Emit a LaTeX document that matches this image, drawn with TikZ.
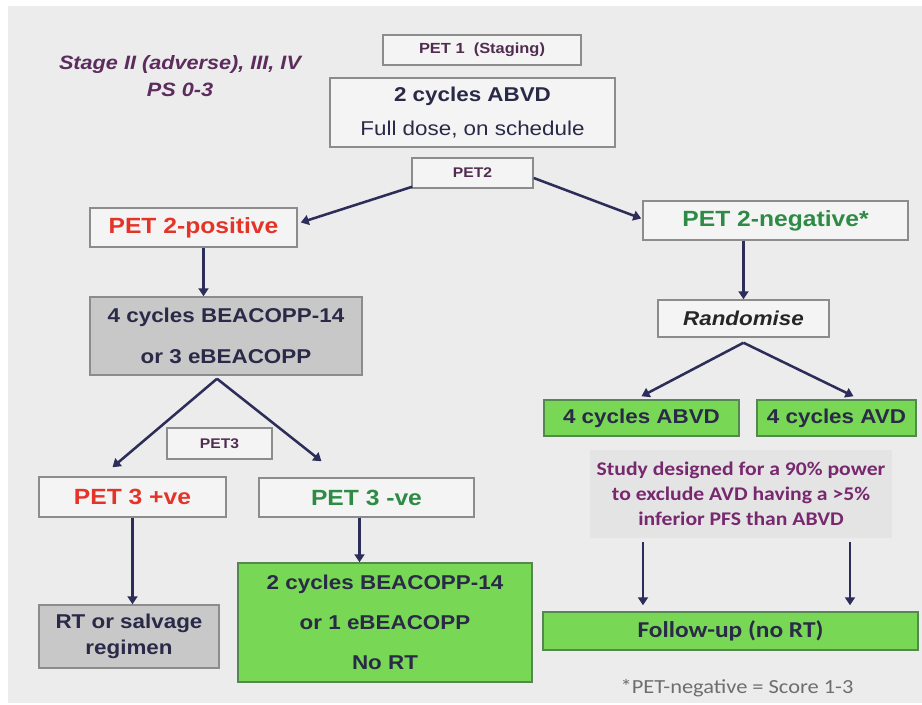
\documentclass[tikz,border=0pt]{standalone}
\usepackage{fontspec}
\setmainfont[FakeStretch=1.12]{Liberation Sans}
\newfontfamily\carl[FakeStretch=1.12]{Carlito}
\usetikzlibrary{arrows.meta,calc}
\definecolor{bgc}{RGB}{236,236,236}
\definecolor{boxfill}{RGB}{244,244,244}
\definecolor{boxline}{RGB}{140,140,140}
\definecolor{grayfill}{RGB}{200,200,200}
\definecolor{grnfill}{RGB}{120,215,85}
\definecolor{grnline}{RGB}{85,135,80}
\definecolor{navy}{RGB}{42,42,72}
\definecolor{arrc}{RGB}{45,45,90}
\definecolor{redc}{RGB}{228,52,40}
\definecolor{grnc}{RGB}{46,139,70}
\definecolor{petc}{RGB}{80,45,80}
\definecolor{stagec}{RGB}{92,44,92}
\definecolor{purpc}{RGB}{120,40,110}
\definecolor{studyc}{RGB}{228,228,228}
\definecolor{footc}{RGB}{110,110,110}
\newcommand\fsz[2]{\fontsize{#1pt}{#2pt}\selectfont}
\begin{document}
\begin{tikzpicture}[x=0.75pt,y=-0.75pt,
  wh/.style 2 args={minimum width=#1*0.75pt, minimum height=#2*0.75pt},
  box/.style={draw=boxline, line width=1.1pt, fill=boxfill, inner sep=0pt, align=center, text=navy},
  grnbox/.style={draw=grnline, line width=1.1pt, fill=grnfill, inner sep=0pt, align=center, text=navy},
  arr/.style={draw=arrc, line width=1.9pt, -{Triangle[width=7.5pt,length=6pt]}},
  ln/.style={draw=arrc, line width=1.9pt}]
\fill[white] (0,0) rectangle (922,705);
\fill[bgc] (8,6) rectangle (922,703);
\useasboundingbox (0,0) rectangle (922,705);

\node[text=stagec, font=\bfseries\itshape\fsz{14.5}{20}, align=center] (stage) at (180,76) {Stage II (adverse), III, IV\\PS 0-3};

\node[box, wh={198}{30}, text=petc, font=\bfseries\fsz{11}{13}] (pet1) at (482,50) {PET 1\ \ (Staging)};
\node[box, wh={285}{69}, font=\fsz{15}{26}] (abvd) at (472.5,112.5) {\textbf{2 cycles ABVD}\\Full dose, on schedule};
\node[box, wh={121}{30}, text=petc, font=\bfseries\fsz{10.5}{12}] (pet2) at (472.5,173) {PET2};

\node[box, wh={207}{39}, text=redc, font=\bfseries\fsz{16.5}{20}] (pos) at (193.5,227.5) {PET 2-positive};
\node[box, wh={265}{39}, text=grnc, font=\bfseries\fsz{16.5}{20}] (neg) at (775.5,220.5) {PET 2-negative*};

\node[box, wh={272}{78}, fill=grayfill, font=\bfseries\fsz{15}{31}] (beac) at (226,336) {4 cycles BEACOPP-14\\or 3 eBEACOPP};
\node[box, wh={171}{37}, text=black!85, font=\bfseries\itshape\fsz{15}{18}] (rand) at (743.5,318.5) {Randomise};

\node[grnbox, wh={195}{36}, font=\bfseries\fsz{15}{18}] (abvd4) at (641.5,418) {4 cycles ABVD};
\node[grnbox, wh={159}{36}, font=\bfseries\fsz{15}{18}] (avd4) at (836.5,418) {4 cycles AVD};

\node[box, wh={105}{31}, text=petc, font=\bfseries\fsz{10.5}{12}] (pet3) at (219.5,443.5) {PET3};
\node[box, wh={187}{40}, text=redc, font=\bfseries\fsz{16.5}{20}] (p3pos) at (132.5,497) {PET 3 +ve};
\node[box, wh={215}{39}, text=grnc, font=\bfseries\fsz{16.5}{20}] (p3neg) at (366.5,497.5) {PET 3 -ve};

\node[box, wh={180}{63}, fill=grayfill, font=\bfseries\fsz{15}{20}] (rt) at (129,636.5) {RT or salvage\\regimen};
\node[grnbox, wh={294}{119}, font=\bfseries\fsz{15}{30}] (green) at (385,622.5) {2 cycles BEACOPP-14\\or 1 eBEACOPP\\No RT};

\node[fill=studyc, inner sep=0pt, wh={302}{88}, text=purpc, font=\carl\bfseries\fsz{14.5}{18.75}, align=center] (study) at (741,494) {Study designed for a 90\% power\\to exclude AVD having a >5\%\\inferior PFS than ABVD};
\node[grnbox, wh={375}{38}, font=\carl\bfseries\fsz{17}{20}] (follow) at (730.5,631) {Follow-up (no RT)};
\node[text=footc, font=\carl\fsz{15}{18}] (foot) at (737,688) {*PET-negative = Score 1-3};

% connectors
\draw[arr] ($(pet2.south west)+(1,-2)$) -- ($(pos.east)+(3,-5)$);
\draw[arr] ($(pet2.east)+(0,5)$) -- ($(neg.west)+(-1,-2)$);
\draw[arr] ([xshift=7.5pt]pos.south) -- ([xshift=7.5pt]pos.south |- beac.north);
\draw[arr] (rand.north |- neg.south) -- (rand.north);
\coordinate (rapex) at ($(rand.south)+(0,5)$);
\draw[arr] (rapex) -- ($(abvd4.north)+(0,-3)$);
\draw[arr] (rapex) -- ($(avd4.north)+(17,-3)$);
\coordinate (bapex) at ($(beac.south)+(-9,3)$);
\draw[arr] (bapex) -- ($(p3pos.north)+(-20,-9)$);
\draw[arr] (bapex) -- ($(p3neg.north)+(-45,-16)$);
\draw[arr] (p3pos.south) -- (p3pos.south |- rt.north);
\draw[arr] ([xshift=-5.25pt]p3neg.south) -- ([xshift=-5.25pt]p3neg.south |- green.north);
\draw[arr] ($(study.south)+(-98,4)$) -- ($(follow.north)+(-87.5,-6)$);
\draw[arr] ($(study.south)+(109,4)$) -- ($(follow.north)+(119.5,-6)$);
\end{tikzpicture}
\end{document}
